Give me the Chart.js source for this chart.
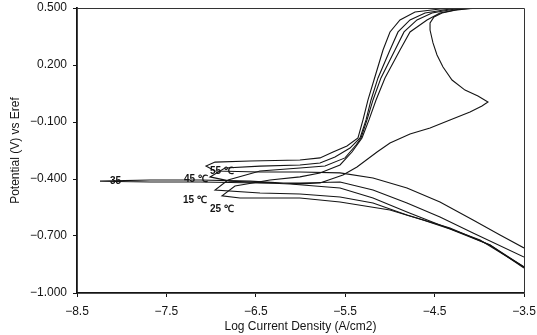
<!DOCTYPE html>
<html>
<head>
<meta charset="utf-8">
<title>Polarization curves</title>
<script src="https://cdn.jsdelivr.net/npm/chart.js@4.4.0/dist/chart.umd.min.js"></script>
<style>
  html, body { margin: 0; padding: 0; background: #fff; }
</style>
</head>
<body>
<canvas id="polChart" width="537" height="335"></canvas>
<script>
/************ data: log i (A/cm2) and potential (V) ************/
// each curve runs from the cathodic end, through Ecorr, up the anodic branch
const logI_15 = [-3.5, -3.880, -4.328, -4.809, -5.189, -5.558, -6.006, -6.453, -6.956,
  -6.811, -6.453, -6.006, -5.726, -5.502, -5.379, -5.323, -5.256, -5.189, -5.100, -4.943, -4.842, -4.697, -4.529, -4.272, -3.992];
const E_15 = [-0.863, -0.747, -0.658, -0.589, -0.526, -0.495, -0.479, -0.474, -0.458,
  -0.405, -0.358, -0.342, -0.332, -0.289, -0.221, -0.184, -0.089, 0.016, 0.132, 0.279, 0.374, 0.437, 0.474, 0.495, 0.5];

const logI_25 = [-3.5, -3.880, -4.328, -4.630, -4.999, -5.558, -6.006, -6.677, -6.878,
  -6.733, -6.341, -6.006, -5.782, -5.558, -5.424, -5.312, -5.234, -5.155, -5.055, -4.887, -4.775, -4.585, -4.440, -4.216, -3.936];
const E_25 = [-0.868, -0.747, -0.663, -0.616, -0.563, -0.521, -0.500, -0.500, -0.489,
  -0.437, -0.405, -0.389, -0.368, -0.326, -0.258, -0.184, -0.089, 0.016, 0.132, 0.279, 0.374, 0.437, 0.474, 0.495, 0.5];

const logI_35 = [-3.5, -4.070, -4.440, -4.809, -5.189, -5.558, -6.006, -6.453, -7.124, -7.683, -8.243,
  -7.683, -7.124, -6.565, -6.006, -5.782, -5.525, -5.368, -5.144, -4.999, -4.775, -4.551, -4.328, -4.104, -3.970, -3.903,
  -4.015, -4.160, -4.305, -4.406, -4.473, -4.518, -4.551, -4.551, -4.507, -4.417, -4.272, -4.048];
const E_35 = [-0.811, -0.684, -0.600, -0.526, -0.458, -0.416, -0.421, -0.421, -0.416, -0.416, -0.411,
  -0.405, -0.405, -0.411, -0.426, -0.421, -0.379, -0.337, -0.258, -0.211, -0.163, -0.132, -0.089, -0.047, -0.016, 0.005,
  0.037, 0.068, 0.121, 0.189, 0.253, 0.316, 0.384, 0.421, 0.453, 0.474, 0.489, 0.5];

const logI_45 = [-3.5, -3.992, -4.440, -4.809, -5.189, -5.558, -6.117, -6.789, -7.012,
  -6.845, -6.453, -6.006, -5.782, -5.614, -5.446, -5.334, -5.267, -5.211, -5.133, -4.999, -4.909, -4.775, -4.607, -4.328, -4.048];
const E_45 = [-0.863, -0.721, -0.642, -0.574, -0.500, -0.447, -0.426, -0.411, -0.389,
  -0.342, -0.332, -0.326, -0.316, -0.284, -0.237, -0.184, -0.089, 0.016, 0.132, 0.279, 0.374, 0.437, 0.474, 0.495, 0.5];

const logI_55 = [-3.5, -3.768, -4.070, -4.440, -4.809, -5.189, -5.558, -6.006, -6.453, -6.956, -7.057,
  -6.956, -6.565, -6.006, -5.782, -5.636, -5.480, -5.357, -5.301, -5.245, -5.178, -5.077, -4.999, -4.887, -4.719, -4.440, -4.160];
const E_55 = [-0.763, -0.695, -0.616, -0.521, -0.447, -0.395, -0.368, -0.363, -0.363, -0.358, -0.332,
  -0.311, -0.305, -0.300, -0.289, -0.258, -0.226, -0.184, -0.089, 0.016, 0.121, 0.279, 0.374, 0.437, 0.479, 0.495, 0.5];

// axis ticks
const xTicks = [-8.5, -7.5, -6.5, -5.5, -4.5, -3.5];
const yTicks = [-1.0, -0.7, -0.4, -0.1, 0.2, 0.5];

// temperature tags, anchored in data units
const tagText = ['35', '45 \u2103', '55 \u2103', '15 \u2103', '25 \u2103'];
const tagX = [-8.07, -7.17, -6.88, -7.18, -6.88];
const tagY = [-0.41, -0.40, -0.36, -0.51, -0.56];

/************ chart ************/
const FONT = "'Liberation Sans', Arial, sans-serif";
const INK = '#141414';

function toPoints(xs, ys) {
  return xs.map((x, i) => ({ x: x, y: ys[i] }));
}

function curve(label, xs, ys) {
  return {
    label: label,
    data: toPoints(xs, ys),
    showLine: true,
    borderColor: INK,
    borderWidth: 1.1,
    pointRadius: 0,
    tension: 0,
    fill: false
  };
}

function minusSign(s) {
  return s.replace('-', '\u2212');
}

// thin frame along top and right of the plot
const frameLines = {
  id: 'frameLines',
  afterDatasetsDraw(chart) {
    const ctx = chart.ctx;
    const a = chart.chartArea;
    ctx.save();
    ctx.strokeStyle = '#333';
    ctx.lineWidth = 1;
    ctx.beginPath();
    ctx.moveTo(a.left, a.top + 0.5);
    ctx.lineTo(a.right + 0.5, a.top + 0.5);
    ctx.lineTo(a.right + 0.5, a.bottom);
    ctx.stroke();
    ctx.restore();
  }
};

// temperature tags written straight over the curves
const tempTags = {
  id: 'tempTags',
  afterDatasetsDraw(chart) {
    const ctx = chart.ctx;
    const sx = chart.scales.x;
    const sy = chart.scales.y;
    ctx.save();
    ctx.fillStyle = INK;
    ctx.font = 'bold 10px ' + FONT;
    ctx.textAlign = 'center';
    ctx.textBaseline = 'middle';
    for (let i = 0; i < tagText.length; i++) {
      ctx.fillText(tagText[i], sx.getPixelForValue(tagX[i]), sy.getPixelForValue(tagY[i]));
    }
    ctx.restore();
  }
};

const ctx = document.getElementById('polChart');

new Chart(ctx, {
  type: 'scatter',
  data: {
    datasets: [
      curve('15', logI_15, E_15),
      curve('25', logI_25, E_25),
      curve('35', logI_35, E_35),
      curve('45', logI_45, E_45),
      curve('55', logI_55, E_55)
    ]
  },
  options: {
    responsive: false,
    animation: false,
    layout: { padding: { top: 8, right: 13, left: 0, bottom: 0 } },
    plugins: {
      legend: { display: false },
      tooltip: { enabled: false }
    },
    scales: {
      x: {
        type: 'linear',
        min: -8.5,
        max: -3.5,
        afterBuildTicks: function (scale) {
          scale.ticks = xTicks.map(v => ({ value: v }));
        },
        afterFit: function (scale) {
          scale.height = 42;
          scale.paddingLeft = 0;
          scale.paddingRight = 0;
        },
        border: { display: true, color: INK, width: 1.8 },
        grid: { display: true, drawOnChartArea: false, drawTicks: true, tickLength: 4, color: INK },
        ticks: {
          autoSkip: false,
          maxRotation: 0,
          padding: 7,
          color: INK,
          font: { family: FONT, size: 12 },
          callback: v => minusSign(v.toFixed(1))
        },
        title: {
          display: true,
          text: 'Log Current Density (A/cm2)',
          color: INK,
          font: { family: FONT, size: 12 },
          padding: { top: 0, bottom: 1 }
        }
      },
      y: {
        type: 'linear',
        min: -1.0,
        max: 0.5,
        afterBuildTicks: function (scale) {
          scale.ticks = yTicks.map(v => ({ value: v }));
        },
        afterFit: function (scale) {
          scale.width = 77;
          scale.paddingTop = 0;
          scale.paddingBottom = 0;
        },
        border: { display: true, color: INK, width: 1.8 },
        grid: { display: true, drawOnChartArea: false, drawTicks: true, tickLength: 4, color: INK },
        ticks: {
          autoSkip: false,
          padding: 6,
          color: INK,
          font: { family: FONT, size: 12 },
          callback: v => minusSign(v.toFixed(3))
        },
        title: {
          display: true,
          text: 'Potential (V) vs Eref',
          color: INK,
          font: { family: FONT, size: 12 },
          padding: { top: 8, bottom: 0 }
        }
      }
    }
  },
  plugins: [frameLines, tempTags]
});
</script>
</body>
</html>
